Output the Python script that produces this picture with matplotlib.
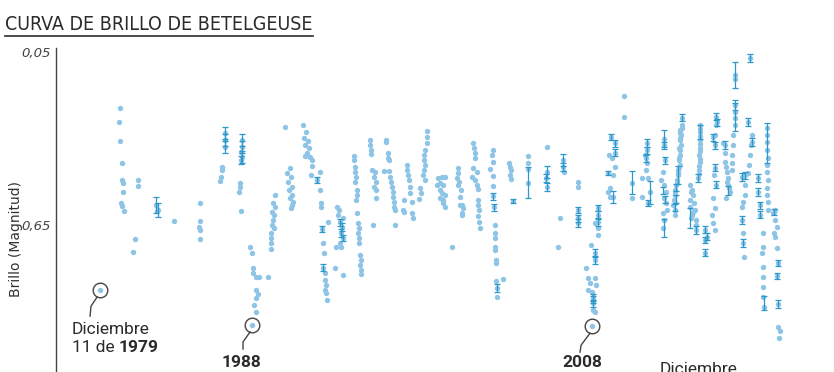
import matplotlib
matplotlib.use('Agg')
import matplotlib.pyplot as plt
from matplotlib import font_manager
from matplotlib.lines import Line2D
from matplotlib.transforms import Affine2D

# ---- data (year, visual magnitude) ----
obs_year = [
    1979.95,
    1981.11, 1981.05, 1981.11, 1981.22, 1981.22, 1981.28, 1981.28, 1981.17, 1981.22, 1981.34,
    1982.15, 1982.15, 1981.98, 1981.86,
    1983.19, 1983.31, 1983.25, 1984.23, 1985.74, 1985.74, 1985.70, 1985.74, 1985.74,
    1987.19, 1987.19, 1987.19, 1987.01, 1987.01, 1986.95, 1986.90,
    1988.17, 1988.17, 1988.12, 1988.17, 1988.12, 1988.06, 1988.06, 1988.00, 1988.12,
    1988.63, 1988.75, 1988.81, 1988.81, 1988.98, 1988.98, 1989.10, 1988.98, 1988.87, 1988.98, 1988.75, 1989.16, 1989.68,
    1990.08, 1989.97, 1990.08, 1989.91, 1990.02, 1989.97, 1989.91, 1990.02, 1989.85, 1989.85, 1989.85, 1989.85,
    1990.66,
    1990.95, 1990.78, 1991.01, 1990.83, 1991.07, 1990.89, 1991.07, 1990.95, 1991.12, 1991.07, 1991.01,
    1991.70, 1991.88, 1991.76, 1991.99, 1991.82, 1992.05, 1991.93, 1992.11, 1991.82, 1992.23, 1992.23, 1992.17,
    1992.69, 1992.52, 1992.69, 1992.75, 1992.75, 1992.80, 1992.86, 1992.92, 1992.86, 1992.98, 1992.98, 1993.04, 1992.98, 1993.04, 1993.09,
    1993.67, 1993.79, 1993.73, 1994.02, 1993.85, 1993.96, 1993.90, 1994.02, 1993.85, 1993.90, 1993.15, 1993.55, 1994.02, 1993.61,
    1994.66, 1994.66, 1994.71, 1994.71, 1994.77, 1994.71, 1994.83, 1994.83, 1994.77, 1994.83,
    1994.89, 1994.94, 1994.89, 1994.94, 1994.94, 1995.00, 1995.06, 1995.00, 1995.06, 1995.06,
    1995.58, 1995.58, 1995.64, 1995.64, 1995.70, 1995.87, 1995.81, 1995.93, 1995.81, 1995.93, 1995.93, 1995.75,
    1996.51, 1996.51, 1996.62, 1996.62, 1996.68, 1996.39, 1996.68, 1996.74, 1996.79, 1996.86, 1996.91, 1996.91, 1996.97, 1996.97, 1997.03, 1997.03,
    1997.73, 1997.73, 1997.78, 1997.84, 1997.90, 1997.90, 1998.02, 1998.02, 1998.07, 1997.55, 1997.55, 1997.49,
    1998.89, 1998.89, 1998.89, 1998.77, 1998.71, 1998.71, 1998.77, 1998.71, 1998.65, 1998.77, 1998.48, 1998.54, 1998.42,
    1999.51, 1999.74, 1999.91, 1999.46, 1999.63, 1999.80, 1999.63, 1999.74, 1999.91, 1999.63, 1999.80, 1999.91, 1999.80, 2000.33,
    2000.68, 2000.68, 2000.62, 2000.74, 2000.68, 2000.85, 2000.79, 2000.91, 2000.97, 2000.91, 2000.79, 2000.91,
    2001.55, 2001.61, 2001.67, 2001.67, 2001.55, 2001.78, 2001.49, 2001.67, 2001.78, 2001.84, 2001.84, 2001.84, 2001.90, 2001.84, 2001.90, 2001.95,
    2002.71, 2002.66, 2002.71, 2002.53, 2002.71, 2002.71, 2002.71, 2002.77, 2002.82, 2002.82, 2002.82, 2002.82, 2002.82, 2002.88, 2002.88, 2002.88, 2003.28, 2002.94, 2002.94,
    2003.64, 2003.69, 2003.75, 2003.69, 2003.75, 2003.86,
    2004.73, 2004.73, 2004.73, 2004.73,
    2005.83, 2005.83, 2005.77, 2005.83,
    2006.76, 2006.76, 2006.82, 2006.59, 2006.47,
    2007.62, 2007.62, 2007.62, 2007.62, 2007.62,
    2008.78, 2008.78, 2008.78, 2008.61, 2008.78, 2008.78, 2008.38, 2008.61, 2008.61, 2008.09, 2008.21, 2008.61, 2008.32, 2008.67, 2008.21, 2008.44, 2008.50, 2008.50, 2008.50, 2008.50, 2008.61, 2008.44,
    2009.54, 2009.78, 2009.78, 2009.42, 2009.60, 2009.78, 2009.66, 2009.48, 2009.37, 2009.48, 2009.66, 2009.37,
    2010.29, 2010.29,
    2010.75, 2010.75, 2011.33, 2011.33,
    2011.62, 2011.62, 2011.56, 2011.50, 2011.62, 2011.56, 2011.68, 2011.79, 2011.68,
    2012.61, 2012.61, 2012.66, 2012.55, 2012.44, 2012.61, 2012.72, 2012.61, 2012.72, 2012.78, 2012.55, 2012.61, 2012.55,
    2013.65, 2013.65, 2013.53, 2013.59, 2013.53, 2013.59, 2013.53, 2013.53, 2013.48, 2013.53, 2013.42, 2013.42, 2013.36, 2013.30, 2013.24, 2013.24, 2013.19, 2013.13, 2013.24, 2013.24,
    2013.62, 2013.56, 2013.56, 2013.50, 2013.50, 2013.45, 2013.39, 2013.33, 2013.27, 2013.22,
    2014.10, 2014.22, 2014.27, 2014.10, 2014.33, 2014.10, 2014.39, 2014.22, 2014.45, 2014.45, 2014.45, 2014.16, 2014.30, 2014.16,
    2014.70, 2014.70, 2014.70, 2014.70, 2014.64, 2014.70, 2014.64, 2014.58, 2014.70, 2014.70, 2014.70, 2014.67, 2014.67, 2014.64, 2014.61,
    2015.63, 2015.68, 2015.63, 2015.57, 2015.45, 2015.57, 2015.57, 2015.63, 2015.51, 2015.45, 2015.57, 2015.39, 2015.45, 2015.57, 2014.97, 2015.08, 2014.97, 2014.97,
    2016.14, 2016.03, 2016.14, 2016.14, 2016.26, 2016.31, 2016.31, 2016.43, 2016.20, 2016.20, 2016.37, 2016.28,
    2016.72, 2016.72, 2016.72, 2016.72, 2016.72, 2016.72, 2016.61, 2016.61, 2016.55, 2016.55, 2016.55,
    2017.48, 2017.71, 2017.71, 2017.65, 2017.60, 2017.54, 2017.48, 2017.31, 2017.31, 2017.19, 2017.13, 2017.31, 2017.13, 2017.13, 2017.19, 2017.19, 2017.25, 2017.60,
    2018.07, 2018.07, 2018.18, 2018.18,
    2018.58, 2018.58, 2018.58, 2018.58, 2018.64, 2018.58, 2018.58, 2018.64, 2018.58, 2018.58, 2018.64, 2018.64,
    2018.34, 2018.34, 2018.30, 2018.34, 2018.34, 2018.34, 2018.34, 2018.39,
    2019.04, 2018.98, 2018.93, 2019.04, 2019.16, 2018.98, 2019.04, 2019.16, 2019.22, 2019.16, 2019.22, 2019.22, 2019.33, 2019.27,
]
obs_mag = [
    0.876,
    0.244, 0.293, 0.359, 0.435, 0.494, 0.504, 0.536, 0.574, 0.584, 0.602,
    0.494, 0.515, 0.699, 0.744,
    0.581, 0.598, 0.602, 0.636, 0.574, 0.636, 0.657, 0.667, 0.699,
    0.331, 0.355, 0.379, 0.449, 0.459, 0.484, 0.497,
    0.355, 0.379, 0.397, 0.414, 0.425, 0.504, 0.518, 0.536, 0.602,
    0.726, 0.747, 0.799, 0.817, 0.831, 0.876, 0.890, 0.904, 0.928, 0.952, 0.997, 0.831, 0.831,
    0.546, 0.574, 0.588, 0.605, 0.615, 0.633, 0.650, 0.660, 0.678, 0.695, 0.713, 0.734,
    0.310,
    0.452, 0.470, 0.484, 0.501, 0.518, 0.529, 0.546, 0.557, 0.570, 0.581, 0.591,
    0.303, 0.328, 0.349, 0.359, 0.373, 0.383, 0.400, 0.414, 0.411, 0.425, 0.446, 0.477,
    0.466, 0.494, 0.529, 0.574, 0.588, 0.664, 0.713, 0.747, 0.799, 0.817, 0.841, 0.858, 0.876, 0.886, 0.910,
    0.588, 0.598, 0.615, 0.626, 0.640, 0.657, 0.678, 0.695, 0.713, 0.726, 0.640, 0.799, 0.824, 0.726,
    0.411, 0.425, 0.449, 0.466, 0.484, 0.501, 0.529, 0.546, 0.563, 0.608,
    0.643, 0.660, 0.678, 0.695, 0.713, 0.754, 0.772, 0.789, 0.806, 0.820,
    0.355, 0.373, 0.390, 0.404, 0.459, 0.466, 0.484, 0.501, 0.518, 0.529, 0.557, 0.650,
    0.355, 0.362, 0.400, 0.418, 0.425, 0.463, 0.463, 0.484, 0.501, 0.518, 0.536, 0.553, 0.570, 0.588, 0.598, 0.650,
    0.442, 0.459, 0.477, 0.494, 0.518, 0.539, 0.570, 0.608, 0.626, 0.563, 0.605, 0.598,
    0.324, 0.345, 0.366, 0.390, 0.407, 0.425, 0.442, 0.459, 0.477, 0.494, 0.522, 0.539, 0.560,
    0.487, 0.484, 0.484, 0.511, 0.504, 0.511, 0.529, 0.539, 0.546, 0.557, 0.563, 0.588, 0.574, 0.726,
    0.452, 0.470, 0.487, 0.501, 0.511, 0.529, 0.553, 0.581, 0.591, 0.615, 0.581, 0.608,
    0.366, 0.383, 0.400, 0.418, 0.452, 0.466, 0.484, 0.494, 0.511, 0.525, 0.563, 0.581, 0.598, 0.619, 0.640, 0.660,
    0.390, 0.407, 0.431, 0.456, 0.480, 0.515, 0.550, 0.588, 0.650, 0.678, 0.695, 0.726, 0.737, 0.772, 0.782, 0.845, 0.838, 0.869, 0.900,
    0.435, 0.449, 0.459, 0.477, 0.491, 0.567,
    0.411, 0.435, 0.456, 0.504,
    0.380, 0.466, 0.487, 0.518,
    0.425, 0.449, 0.466, 0.626, 0.726,
    0.501, 0.518, 0.598, 0.626, 0.643,
    0.591, 0.615, 0.640, 0.643, 0.660, 0.685, 0.720, 0.747, 0.772, 0.799, 0.834, 0.834, 0.851, 0.858, 0.876, 0.883, 0.900, 0.910, 0.921, 0.945, 0.952, 1.001,
    0.345, 0.366, 0.400, 0.407, 0.418, 0.449, 0.477, 0.522, 0.536, 0.553, 0.553, 0.470,
    0.203, 0.275,
    0.504, 0.557, 0.553, 0.487,
    0.366, 0.390, 0.418, 0.407, 0.435, 0.459, 0.487, 0.536, 0.574,
    0.350, 0.373, 0.425, 0.466, 0.494, 0.511, 0.536, 0.557, 0.574, 0.598, 0.608, 0.633, 0.660,
    0.278, 0.303, 0.321, 0.338, 0.355, 0.373, 0.390, 0.407, 0.425, 0.442, 0.459, 0.477, 0.494, 0.511, 0.529, 0.546, 0.563, 0.581, 0.598, 0.615,
    0.312, 0.330, 0.347, 0.382, 0.416, 0.450, 0.468, 0.503, 0.537, 0.572,
    0.511, 0.529, 0.546, 0.563, 0.574, 0.588, 0.598, 0.615, 0.633, 0.650, 0.667, 0.537, 0.605, 0.625,
    0.303, 0.328, 0.355, 0.383, 0.407, 0.431, 0.459, 0.487, 0.316, 0.342, 0.369, 0.395, 0.420, 0.445, 0.473,
    0.275, 0.293, 0.303, 0.338, 0.345, 0.373, 0.452, 0.511, 0.477, 0.557, 0.591, 0.615, 0.643, 0.667, 0.667, 0.691, 0.702, 0.747,
    0.373, 0.366, 0.400, 0.431, 0.466, 0.487, 0.511, 0.536, 0.557, 0.450, 0.520, 0.500,
    0.130, 0.144, 0.234, 0.259, 0.280, 0.303, 0.338, 0.373, 0.407, 0.435, 0.459,
    0.293, 0.362, 0.338, 0.373, 0.407, 0.442, 0.470, 0.511, 0.546, 0.570, 0.484, 0.477, 0.588, 0.633, 0.678, 0.713, 0.761, 0.071,
    0.487, 0.536, 0.581, 0.615,
    0.314, 0.338, 0.362, 0.390, 0.418, 0.442, 0.466, 0.494, 0.522, 0.546, 0.570, 0.598,
    0.678, 0.726, 0.747, 0.796, 0.831, 0.866, 0.900, 0.935,
    0.598, 0.605, 0.608, 0.633, 0.657, 0.678, 0.692, 0.730, 0.782, 0.827, 0.924, 1.004, 1.018, 1.042,
]

# observations that carry an error bar
err_year = [1983.19, 1983.31, 1987.19, 1987.19, 1987.19, 1988.17, 1988.17, 1988.17, 1988.12,
            1992.52, 1992.80, 1992.86, 1993.85, 1993.90, 1994.02, 1993.96,
            2002.71, 2002.77, 2002.94, 2003.86, 2004.73, 2005.83, 2005.77, 2005.83,
            2006.76, 2006.76, 2007.62, 2007.62, 2007.62,
            2008.78, 2008.78, 2008.78, 2008.61, 2008.61, 2008.50, 2008.50, 2008.50,
            2009.54, 2009.78, 2009.78, 2009.66, 2009.37, 2010.75,
            2011.62, 2011.62, 2011.56, 2011.79, 2011.68,
            2012.61, 2012.61, 2012.66, 2012.61, 2012.55, 2012.66,
            2013.65, 2013.42, 2013.30, 2013.30, 2013.24,
            2014.45, 2014.10, 2014.70, 2014.58,
            2015.63, 2015.68, 2015.45, 2015.57, 2015.57, 2015.63, 2014.97, 2015.08, 2014.97, 2014.97,
            2016.14, 2016.31, 2016.72, 2016.72, 2016.72,
            2017.48, 2017.71, 2017.13, 2017.31, 2017.13, 2017.19, 2017.60,
            2018.07, 2018.07, 2018.18, 2018.18, 2018.58, 2018.39,
            2018.98, 2019.22, 2019.16, 2019.22]
err_mag = [0.581, 0.598, 0.331, 0.355, 0.379, 0.355, 0.379, 0.414, 0.425,
           0.494, 0.664, 0.799, 0.640, 0.678, 0.695, 0.657,
           0.550, 0.588, 0.869, 0.567, 0.504, 0.466, 0.487, 0.518,
           0.425, 0.449, 0.598, 0.626, 0.643,
           0.591, 0.615, 0.640, 0.747, 0.772, 0.900, 0.910, 0.921,
           0.345, 0.366, 0.400, 0.553, 0.470, 0.504,
           0.366, 0.390, 0.418, 0.536, 0.574,
           0.350, 0.373, 0.425, 0.660, 0.530, 0.560,
           0.278, 0.477, 0.520, 0.560, 0.590,
           0.667, 0.625, 0.328, 0.487,
           0.275, 0.293, 0.345, 0.373, 0.452, 0.511, 0.667, 0.691, 0.702, 0.747,
           0.373, 0.530, 0.130, 0.270, 0.240,
           0.293, 0.362, 0.484, 0.477, 0.633, 0.713, 0.071,
           0.487, 0.536, 0.581, 0.615, 0.365, 0.920,
           0.605, 0.782, 0.827, 0.924]
err_size = [0.028, 0.024, 0.020, 0.020, 0.020, 0.020, 0.020, 0.020, 0.015,
            0.012, 0.012, 0.012, 0.012, 0.015, 0.012, 0.015,
            0.012, 0.012, 0.015, 0.008, 0.054, 0.020, 0.015, 0.015,
            0.020, 0.015, 0.012, 0.012, 0.015,
            0.012, 0.012, 0.012, 0.012, 0.012, 0.012, 0.012, 0.012,
            0.010, 0.012, 0.012, 0.020, 0.008, 0.040,
            0.015, 0.012, 0.012, 0.040, 0.010,
            0.030, 0.012, 0.012, 0.030, 0.012, 0.012,
            0.012, 0.030, 0.012, 0.015, 0.012,
            0.015, 0.035, 0.025, 0.015,
            0.012, 0.012, 0.012, 0.012, 0.012, 0.012, 0.012, 0.012, 0.012, 0.012,
            0.015, 0.015, 0.045, 0.055, 0.012,
            0.015, 0.015, 0.015, 0.012, 0.015, 0.015, 0.015,
            0.015, 0.015, 0.012, 0.012, 0.070, 0.025,
            0.012, 0.010, 0.012, 0.015]

# highlighted observations (circled)
mark_year = [1979.95, 1988.75, 2008.44]
mark_mag = [0.876, 0.997, 1.001]

ytick_vals = [0.05, 0.65]
ytick_labels = ['0,05', '0,65']

C_DOT, C_ERR, C_INK = '#8ec4e6', '#2b98cc', '#2b2b2b'
W, H = 834, 372


def narrow_font():
    # pick the narrowest installed sans for the headline
    prefs = ['ExtraCondensed', 'SemiCondensed', 'Condensed', 'Narrow']
    best = None
    for f in font_manager.fontManager.ttflist:
        name = os.path.basename(f.fname)
        if 'Bold' in name or 'Italic' in name or 'Light' in name or 'Thin' in name \
                or 'Black' in name or 'Oblique' in name:
            continue
        for rank, key in enumerate(prefs):
            if key in name and ('Noto' in name or 'Liberation' in name or 'DejaVu' in name
                                or 'Roboto' in name or 'Open' in name):
                if best is None or rank < best[0]:
                    best = (rank, f.fname)
    if best:
        return font_manager.FontProperties(fname=best[1])
    return font_manager.FontProperties(family='DejaVu Sans', stretch='condensed')


import os

fig = plt.figure(figsize=(W / 100, H / 100), dpi=100)
ax = fig.add_axes([56 / W, 0, 1 - 56 / W, (H - 48) / H])
ax.set_xlim(1977.40, 2022.45)
ax.set_ylim(1.160, 0.036)   # magnitude: brighter is up

ax.scatter(obs_year, obs_mag, s=15, color=C_DOT, lw=0, zorder=2)
ax.errorbar(err_year, err_mag, yerr=err_size, fmt='none', ecolor=C_ERR,
            elinewidth=0.9, capsize=2.2, capthick=0.9, zorder=3)

for s in ('top', 'right', 'bottom'):
    ax.spines[s].set_visible(False)
ax.spines['left'].set_color('#444444')
ax.spines['left'].set_linewidth(1.0)
ax.set_xticks([])
ax.set_yticks(ytick_vals)
ax.set_yticklabels(ytick_labels, fontstyle='italic', fontsize=9.5, color='#444444')
ax.tick_params(axis='y', length=0, pad=4)
ax.set_ylabel('Brillo (Magnitud)', fontsize=10, color='#333333')
ax.yaxis.set_label_coords(-0.043, 0.41)

# title + rule
fp = narrow_font()
fp.set_size(20)
title = fig.text(5 / W, 1 - 30 / H, 'CURVA DE BRILLO DE BETELGEUSE', fontproperties=fp,
                 color=C_INK, va='baseline', ha='left')
fig.canvas.draw()
tw = title.get_window_extent().width
title.set_fontsize(20 * 308 / tw)
fig.add_artist(Line2D([5 / W, 313 / W], [1 - 36 / H, 1 - 36 / H], color=C_INK, lw=1.2))

# circled points with leader lines
ax.plot(mark_year, mark_mag, 'o', ms=10.5, mfc='none', mec='#444444', mew=1.0, zorder=4)
leaders = [[(-3, -7), (-9, -16), (-10, -26)],
           [(-2, -7), (-9, -17), (-9, -24)],
           [(-2, -7), (-11, -19), (-12, -26)]]
for yr, mg, pts in zip(mark_year, mark_mag, leaders):
    x0, y0 = ax.transData.transform((yr, mg))
    fig.add_artist(Line2D([p[0] for p in pts], [p[1] for p in pts], color='#444444', lw=1.0,
                          transform=Affine2D().translate(x0, y0)))

lab = dict(family='Roboto', fontsize=12.5, color=C_INK, ha='left', va='top')
ax.annotate('Diciembre', xy=(mark_year[0], mark_mag[0]), xytext=(-28, -32),
            textcoords='offset pixels', annotation_clip=False, **lab)
t2 = ax.annotate('11 de ', xy=(mark_year[0], mark_mag[0]), xytext=(-28, -50),
                 textcoords='offset pixels', annotation_clip=False, **lab)
ax.annotate('1979', xy=(1, 0), xycoords=t2, va='bottom', ha='left', family='Roboto',
            fontsize=12.5, color=C_INK, fontweight='bold')
ax.annotate('1988', xy=(mark_year[1], mark_mag[1]), xytext=(-30, -30),
            textcoords='offset pixels', annotation_clip=False, fontweight='bold', **lab)
ax.annotate('2008', xy=(mark_year[2], mark_mag[2]), xytext=(-30, -29),
            textcoords='offset pixels', annotation_clip=False, fontweight='bold', **lab)
# label of the 2019 dimming, cut by the lower edge as in the source
fig.text(660 / W, 1 - 362 / H, 'Diciembre', **lab)

fig.savefig('out.png', dpi=100)
